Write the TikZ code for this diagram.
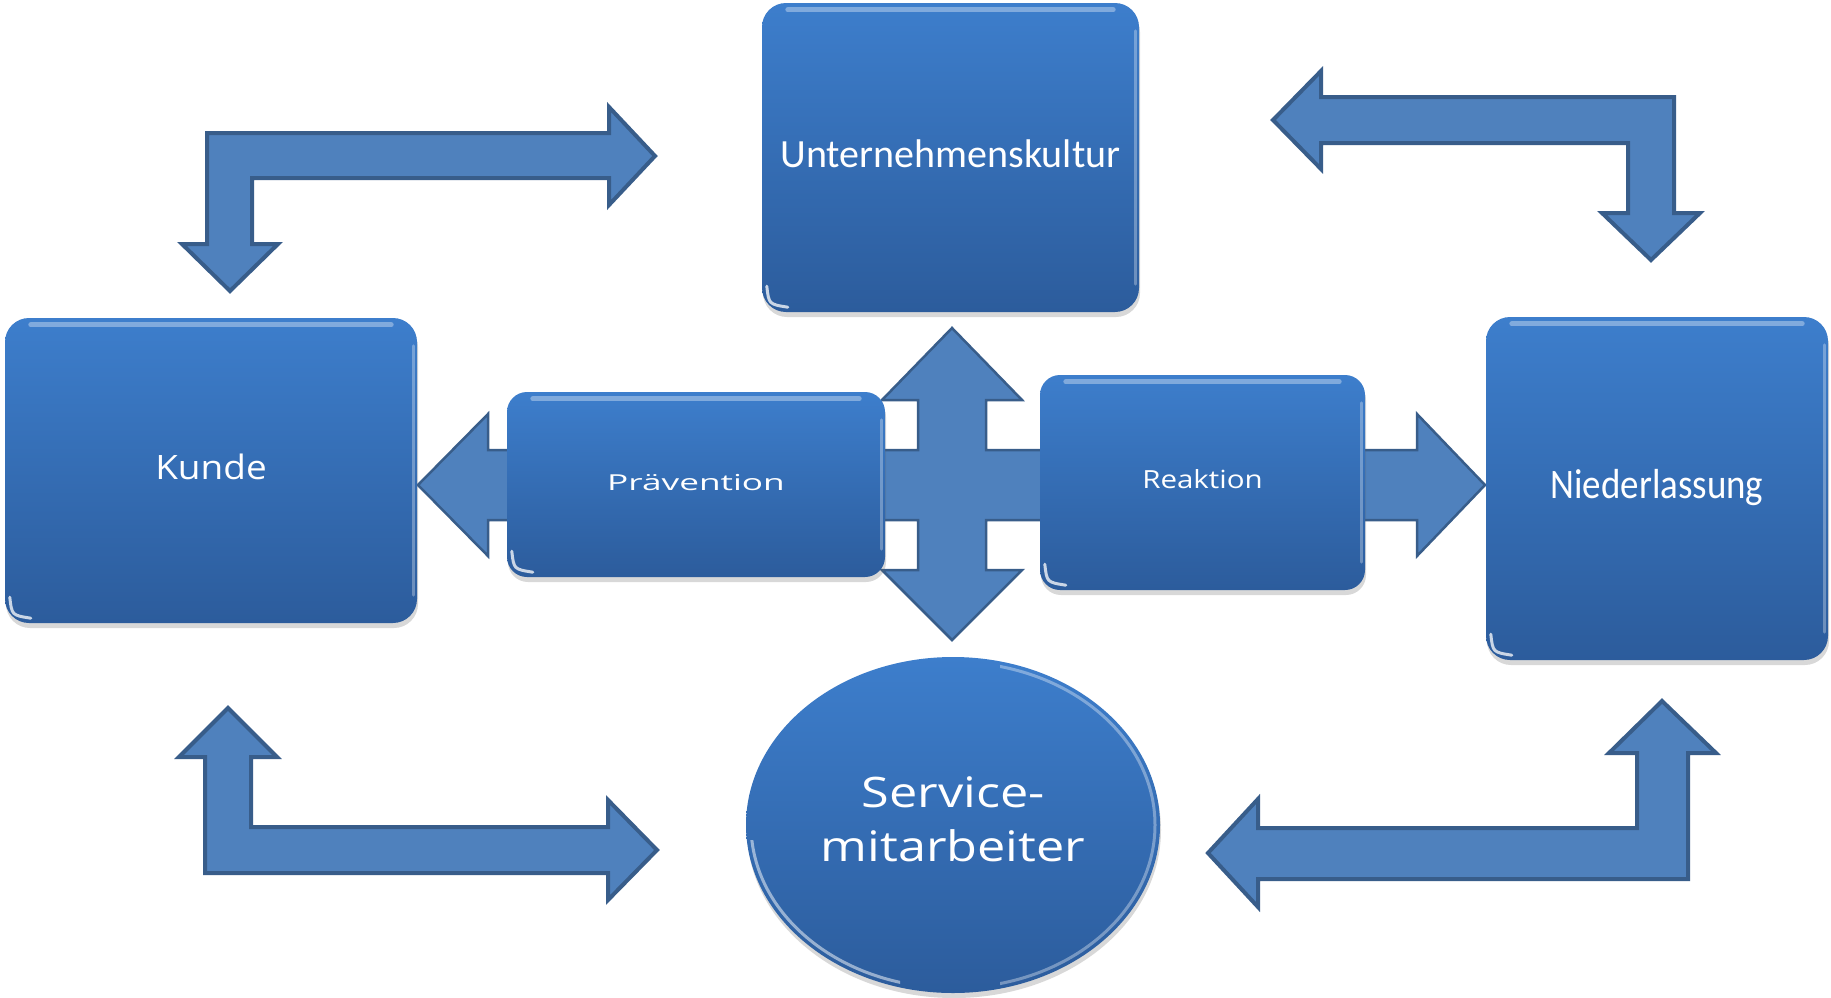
\documentclass[tikz,border=0pt]{standalone}
\usepackage{fontspec}
\usepackage{graphicx}
\usetikzlibrary{shapes.geometric,shadows}
\newfontfamily\carl{Carlito}
\newfontfamily\osans{Open Sans}
\definecolor{arrfill}{HTML}{4F81BD}
\definecolor{arrline}{HTML}{385D8A}
\definecolor{boxtop}{HTML}{3D7ECC}
\definecolor{boxmid}{HTML}{3571BA}
\definecolor{boxbot}{HTML}{2C5C9C}
\newcommand\up[2]{\raisebox{#1}[\height][\depth]{#2}}
\tikzset{
  barrow/.style={fill=arrfill, draw=arrline, line width=4pt, line join=miter},
  qarrow/.style={fill=arrfill, draw=arrline, line width=2.5pt, line join=miter},
  gbox/.style={rectangle, rounded corners=24pt, top color=boxtop, middle color=boxmid,
    bottom color=boxbot, text=white, inner sep=0pt,
    drop shadow={shadow xshift=1pt, shadow yshift=-5pt, opacity=0.25, fill=black!60}},
  gell/.style={ellipse, top color=boxtop, middle color=boxmid, bottom color=boxbot,
    text=white, inner sep=0pt, align=center,
    drop shadow={shadow xshift=1pt, shadow yshift=-5pt, opacity=0.25, fill=black!60}},
  hl/.style={draw=white, line cap=round, opacity=0.35, line width=5pt},
  crescent/.style={draw=white, line cap=round, opacity=0.75, line width=3pt},
}
\newcommand\boxgloss[1]{%
  \draw[hl] ([xshift=26pt,yshift=-7pt]#1.north west) -- ([xshift=-26pt,yshift=-7pt]#1.north east);
  \draw[hl, opacity=0.3, line width=3pt] ([xshift=-4pt,yshift=-28pt]#1.north east) -- ([xshift=-4pt,yshift=28pt]#1.south east);
  \draw[crescent] ([xshift=5pt,yshift=26pt]#1.south west) .. controls ([xshift=7pt,yshift=8pt]#1.south west) .. ([xshift=26pt,yshift=5pt]#1.south west);
}
\begin{document}
\begin{tikzpicture}[x=1pt,y=-1pt]
\useasboundingbox[fill=white] (0,0) rectangle (1831,997);

% bent arrows
\draw[barrow] (207,133) -- (609,133) -- (609,107) -- (655,156) -- (609,205) -- (609,178)
  -- (252,178) -- (252,244) -- (278,244) -- (230,291) -- (182,244) -- (207,244) -- cycle;
\draw[barrow] (1273,120) -- (1321,71) -- (1321,97) -- (1674,97) -- (1674,213) -- (1700,213)
  -- (1651,260) -- (1602,213) -- (1628,213) -- (1628,143) -- (1321,143) -- (1321,169) -- cycle;
\draw[barrow] (228,708) -- (277,757) -- (251,757) -- (251,827) -- (608,827) -- (608,800)
  -- (657,850) -- (608,900) -- (608,873) -- (205,873) -- (205,757) -- (179,757) -- cycle;
\draw[barrow] (1208,853) -- (1258,799) -- (1258,828) -- (1637,828) -- (1637,753) -- (1609,753)
  -- (1662,701) -- (1716,753) -- (1688,753) -- (1688,879) -- (1258,879) -- (1258,907) -- cycle;

% central four-way arrow
\draw[qarrow] (418,485) -- (488,414) -- (488,450) -- (918,450) -- (918,400) -- (882,400)
  -- (952,328) -- (1022,400) -- (986,400) -- (986,450) -- (1417,450) -- (1417,414)
  -- (1485,485) -- (1417,556) -- (1417,520) -- (986,520) -- (986,570) -- (1022,570)
  -- (952,640) -- (882,570) -- (918,570) -- (918,520) -- (488,520) -- (488,556) -- cycle;

% boxes
\node[gbox, minimum width=377pt, minimum height=309pt,
  font=\carl\fontsize{40}{48}\selectfont] (uk) at (950.5,157.5) {\up{4pt}{Unternehmenskultur}};
\boxgloss{uk}
\node[gbox, minimum width=412pt, minimum height=305pt,
  font=\osans\fontsize{33.6}{40}\selectfont] (ku) at (211,470.5) {\up{4pt}{\scalebox{1.1}[1]{Kunde}}};
\boxgloss{ku}
\node[gbox, minimum width=342pt, minimum height=343pt,
  font=\carl\fontsize{42}{50}\selectfont] (nl) at (1657,488.5) {\up{1pt}{\scalebox{0.88}[1]{Niederlassung}}};
\boxgloss{nl}
\node[gbox, rounded corners=20pt, minimum width=378pt, minimum height=185pt,
  font=\osans\fontsize{22}{26}\selectfont] (pr) at (696,484.5) {\up{2pt}{\scalebox{1.6}[1]{Prävention}}};
\boxgloss{pr}
\node[gbox, rounded corners=20pt, minimum width=325pt, minimum height=215pt,
  font=\osans\fontsize{25}{30}\selectfont] (re) at (1202.5,482.5) {\up{3.5pt}{\scalebox{1.18}[1]{Reaktion}}};
\boxgloss{re}

% ellipse
\node[gell, minimum width=414pt, minimum height=336pt,
  font=\osans\fontsize{42}{54}\selectfont] (sm) at (953,825)
  {\up{6pt}{\scalebox{1.2}[1]{Service-}}\\\up{6pt}{\scalebox{1.2}[1]{mitarbeiter}}};
\begin{scope}
  \clip (1000,650) rectangle (1170,1000);
  \draw[hl, opacity=0.35, line width=3pt] (953,825) ellipse (202 and 163);
\end{scope}
\begin{scope}
  \clip (740,840) rectangle (900,1000);
  \draw[hl, opacity=0.5, line width=3pt] (953,825) ellipse (202 and 163);
\end{scope}
\end{tikzpicture}
\end{document}
